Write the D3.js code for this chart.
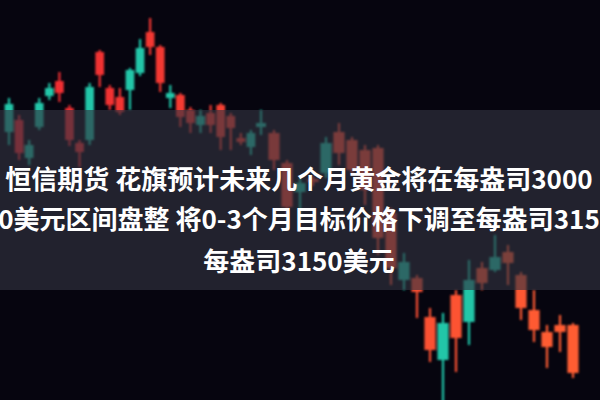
<!DOCTYPE html>
<html><head><meta charset="utf-8">
<script src="https://cdn.jsdelivr.net/npm/d3@7"></script>
<style>html,body{margin:0;padding:0;background:#06050f;overflow:hidden}</style>
</head><body>
<svg id="c" width="600" height="400"></svg>
<script>
const opens  = [3268,3280,3242,3273,3304,3319,3292,3257,3260,3348,3312,3303,3310,3327,3368,3353,3302,3305,3290,3275,3287,3295,3284,3262,3253,3273,3267,3237,3208,3221,3227,3268,3260,3250,3252,3187,3120,3122,3083,3040,3105,3078,3132,3130,3148,3125,3090,3068,3075,3075];
const highs  = [3302,3285,3260,3302,3317,3328,3295,3260,3317,3350,3315,3312,3332,3361,3382,3355,3315,3307,3293,3290,3295,3297,3287,3267,3270,3290,3270,3240,3222,3224,3263,3277,3263,3255,3255,3192,3147,3125,3092,3087,3110,3140,3138,3165,3155,3128,3110,3075,3085,3077];
const lows   = [3255,3240,3235,3270,3300,3298,3254,3233,3255,3313,3290,3285,3290,3324,3345,3308,3292,3273,3267,3267,3267,3250,3250,3255,3245,3265,3230,3185,3180,3214,3222,3235,3225,3195,3145,3115,3110,3082,3038,2990,3028,3055,3110,3128,3115,3080,3058,3032,3048,3022];
const closes = [3296,3247,3255,3297,3312,3307,3260,3248,3313,3325,3295,3288,3330,3352,3353,3317,3307,3283,3277,3284,3275,3263,3272,3258,3267,3277,3240,3193,3217,3218,3257,3247,3230,3210,3162,3132,3138,3108,3050,3077,3062,3120,3117,3143,3137,3092,3070,3053,3068,3027];
const titleLines = ["恒信期货 花旗预计未来几个月黄金将在每盎司3000", "0美元区间盘整 将0-3个月目标价格下调至每盎司315", "每盎司3150美元"];

const W = 600, H = 400;
const svg = d3.select("#c");
const n = opens.length;
const x = d3.scaleLinear().domain([0, 25, n - 1]).range([9, 261, 573]);
const y = d3.scaleLinear().domain([3000, 3400]).range([400, 0]);
const upColor = "#22c6a8";
const downColor = d3.scaleLinear().domain([0, n - 1]).range(["#ee2832", "#ff5d33"]).interpolate(d3.interpolateRgb);

const defs = svg.append("defs");
defs.append("filter").attr("id", "soft").append("feGaussianBlur").attr("stdDeviation", 0.8);

svg.append("rect").attr("width", W).attr("height", H).attr("fill", "#06050f");

const data = d3.range(n).map(i => ({i, o: opens[i], h: highs[i], l: lows[i], c: closes[i]}));
const g = svg.append("g").attr("filter", "url(#soft)");
const bw = i => 0.86 * (x(i + 0.5) - x(i - 0.5));
const col = d => d.c >= d.o ? upColor : downColor(d.i);

g.selectAll("line.wick").data(data).join("line")
  .attr("x1", d => x(d.i)).attr("x2", d => x(d.i))
  .attr("y1", d => y(d.h)).attr("y2", d => y(d.l))
  .attr("stroke", col).attr("stroke-width", 2.2);
g.selectAll("rect.body").data(data).join("rect")
  .attr("x", d => x(d.i) - bw(d.i) / 2).attr("width", d => bw(d.i))
  .attr("y", d => y(Math.max(d.o, d.c)))
  .attr("height", d => Math.max(3, Math.abs(y(d.o) - y(d.c))))
  .attr("fill", col);

// caption band
svg.append("rect").attr("x", 0).attr("y", 110).attr("width", W).attr("height", 180)
  .attr("fill", "rgb(50,52,64)").attr("opacity", 0.64);

const baselines = [189, 229, 271];
svg.selectAll("text.t").data(titleLines).join("text")
  .attr("x", 299).attr("y", (d, i) => baselines[i])
  .attr("text-anchor", "middle")
  .attr("font-family", "'Noto Sans CJK SC', 'Noto Sans', sans-serif")
  .attr("font-weight", 700).attr("font-size", 26)
  .attr("fill", "#ffffff").text(d => d);
</script>
</body></html>
